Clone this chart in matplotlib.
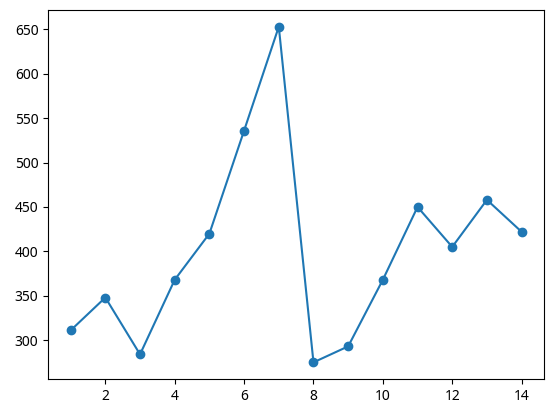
import matplotlib.pyplot as plt

plt.rcParams['font.family'] = ['Noto Sans', 'DejaVu Sans']

x = [1, 2, 3, 4, 5, 6, 7, 8, 9, 10, 11, 12, 13, 14]
y = [311, 348, 284, 368, 420, 536, 653, 275, 293, 368, 450, 405, 458, 422]

fig = plt.figure(figsize=(5.53, 4.13), dpi=100)
plt.subplots_adjust(left=0.087, right=0.984, top=0.976, bottom=0.082)
plt.plot(x, y, marker='o')
plt.savefig('out.png', dpi=100)
